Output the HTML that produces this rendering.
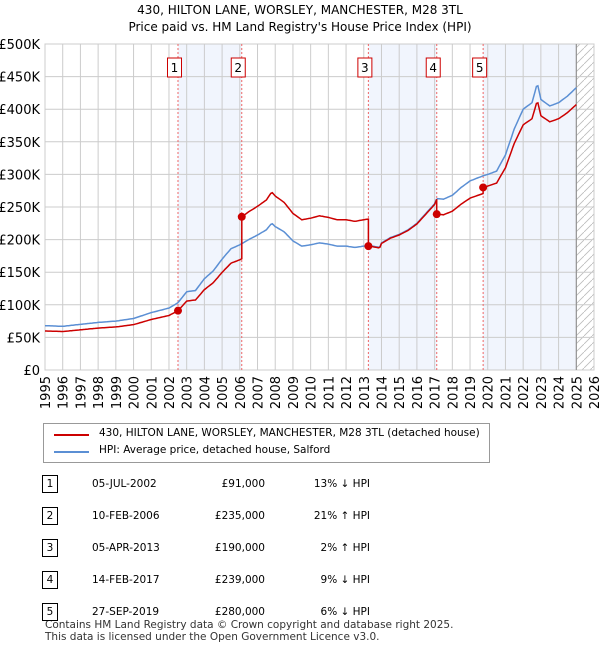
<!DOCTYPE html>
<html><head><meta charset="utf-8"><style>
body{margin:0;background:#fff;font-family:"DejaVu Sans","Liberation Sans",sans-serif;}
#wrap{position:relative;width:600px;height:650px;overflow:hidden}
.t{position:absolute;font-size:12px;color:#000}
</style></head><body><div id="wrap">
<div class="t" style="left:0;width:600px;top:2px;text-align:center;font-size:12px;line-height:17px">430, HILTON LANE, WORSLEY, MANCHESTER, M28 3TL<br>Price paid vs. HM Land Registry's House Price Index (HPI)</div>
<svg id="ch" width="600" height="415" style="position:absolute;left:0;top:0"></svg>
<div style="position:absolute;left:43px;top:423px;width:445px;height:38px;border:1px solid #999;background:#fff">
 <div style="position:absolute;left:10px;top:10px;width:35px;border-top:2px solid #cc0000"></div>
 <div class="t" style="left:55px;top:3px;font-size:10.5px">430, HILTON LANE, WORSLEY, MANCHESTER, M28 3TL (detached house)</div>
 <div style="position:absolute;left:10px;top:27px;width:35px;border-top:2px solid #5b8fd4"></div>
 <div class="t" style="left:55px;top:20px;font-size:10.5px">HPI: Average price, detached house, Salford</div>
</div>
<div class="t" style="left:45px;top:619px;font-size:10.5px;line-height:12px;color:#333">Contains HM Land Registry data © Crown copyright and database right 2025.<br>This data is licensed under the Open Government Licence v3.0.</div>
</div>
<script>
const hpiYears=[1995,1996,1997,1998,1999,2000,2001,2002,2002.5,2003,2003.5,2004,2004.5,2005,2005.5,2006,2006.5,2007,2007.5,2007.8,2008,2008.5,2009,2009.5,2010,2010.5,2011,2011.5,2012,2012.5,2013,2013.3,2013.9,2014,2014.5,2015,2015.5,2016,2016.5,2017,2017.12,2017.5,2018,2018.5,2019,2019.75,2020,2020.5,2021,2021.5,2022,2022.5,2022.8,2023,2023.5,2024,2024.5,2025];
const hpiValues=[68,67,70,73,75,79,88,95,103,120,122,140,152,170,186,192,200,207,215,225,220,212,198,190,192,195,193,190,190,188,190,191,188,195,203,208,215,225,240,255,263,262,268,280,290,298,300,305,330,370,400,410,440,415,405,410,420,433];
const saleDates=[2002.51,2006.11,2013.26,2017.12,2019.74];
const salePrices=[91,235,190,239,280];
const saleLabels=["05-JUL-2002","10-FEB-2006","05-APR-2013","14-FEB-2017","27-SEP-2019"];
const salePriceText=["£91,000","£235,000","£190,000","£239,000","£280,000"];
const saleHpiText=["13% ↓ HPI","21% ↑ HPI","2% ↑ HPI","9% ↓ HPI","6% ↓ HPI"];
const yTicks=[0,50,100,150,200,250,300,350,400,450,500];
const yTickLabels=["£0","£50K","£100K","£150K","£200K","£250K","£300K","£350K","£400K","£450K","£500K"];
const xTicks=[1995,1996,1997,1998,1999,2000,2001,2002,2003,2004,2005,2006,2007,2008,2009,2010,2011,2012,2013,2014,2015,2016,2017,2018,2019,2020,2021,2022,2023,2024,2025,2026];

const X0=45,X1=594,Y0=370,Y1=44;
const xs=v=>X0+(v-1995)/(2026-1995)*(X1-X0);
const ys=v=>Y0-(v/500)*(Y0-Y1);
const NS="http://www.w3.org/2000/svg";
const svg=document.getElementById('ch');
function mk(tag,attrs,parent){const e=document.createElementNS(NS,tag);for(const k in attrs)e.setAttribute(k,attrs[k]);(parent||svg).appendChild(e);return e;}
function hpiAt(t){for(let i=0;i<hpiYears.length-1;i++){if(t<=hpiYears[i+1]){const f=(t-hpiYears[i])/(hpiYears[i+1]-hpiYears[i]);return hpiValues[i]+f*(hpiValues[i+1]-hpiValues[i]);}}return hpiValues[hpiValues.length-1];}
const endT=2025;
const shadeSpans=[[saleDates[0],saleDates[1]],[saleDates[2],saleDates[3]],[saleDates[4],endT]];
shadeSpans.forEach(s=>{const r=mk('rect',{x:xs(s[0]),y:Y1,width:xs(s[1])-xs(s[0]),height:Y0-Y1,fill:'#eef3fc',opacity:0.8});
});
const defs=mk('defs',{});const pat=mk('pattern',{id:'h',width:8,height:8,patternUnits:'userSpaceOnUse'},defs);
mk('path',{d:'M0,8 L8,0',stroke:'#bbb','stroke-width':0.8},pat);
const hr=mk('rect',{x:xs(endT),y:Y1,width:X1-xs(endT),height:Y0-Y1,fill:'url(#h)'});

yTicks.forEach((v,i)=>{const l=mk('line',{x1:X0,x2:X1,y1:ys(v),y2:ys(v),stroke:'#ccc'});

const t=mk('text',{x:40,y:ys(v)+5,'text-anchor':'end','font-size':13,fill:'#000'});t.textContent=yTickLabels[i];
});
xTicks.forEach(v=>{const l=mk('line',{x1:xs(v),x2:xs(v),y1:Y1,y2:Y0,stroke:'#ccc'});

const t=mk('text',{x:0,y:0,'text-anchor':'end','font-size':13,fill:'#000',transform:`translate(${xs(v)+5},${Y0+6}) rotate(-90)`});t.textContent=v;
});
mk('rect',{x:X0,y:Y1,width:X1-X0,height:Y0-Y1,fill:'none',stroke:'#ccc'});
mk('line',{x1:xs(endT),x2:xs(endT),y1:Y1,y2:Y0,stroke:'#888'});
saleDates.forEach((d,i)=>{const l=mk('line',{x1:xs(d),x2:xs(d),y1:Y1,y2:Y0,stroke:'#e66','stroke-dasharray':'2,2'});

const r=mk('rect',{x:xs(d)-10.5,y:58,width:14,height:19,fill:'#fff',stroke:'#cc0000'});

const t=mk('text',{x:xs(d)-3.5,y:72,'text-anchor':'middle','font-size':12});t.textContent=i+1;
});
const ts=[];for(let t=1995;t<=endT+0.0001;t+=1/12)ts.push(+t.toFixed(4));
let bp='';ts.forEach((t,i)=>{bp+=(i?'L':'M')+xs(t).toFixed(1)+','+ys(hpiAt(t)).toFixed(1);});
const bl=mk('path',{d:bp,fill:'none',stroke:'#5b8fd4','stroke-width':1.5});

function ratioAt(t){let k=0;for(let i=0;i<saleDates.length;i++)if(t>=saleDates[i])k=i;return salePrices[k]/hpiAt(saleDates[k]);}
let rp='';const pts=[];
ts.forEach(t=>pts.push(t));saleDates.forEach(d=>{pts.push(d-0.0001);pts.push(d);});pts.sort((a,b)=>a-b);
pts.forEach((t,i)=>{rp+=(i?'L':'M')+xs(t).toFixed(1)+','+ys(hpiAt(t)*ratioAt(t)).toFixed(1);});
const rl=mk('path',{d:rp,fill:'none',stroke:'#cc0000','stroke-width':1.5});

saleDates.forEach((d,i)=>{const c=mk('circle',{cx:xs(d),cy:ys(salePrices[i]),r:4,fill:'#cc0000'});
});
saleDates.forEach((d,i)=>{const y=475+i*32;
const row=document.createElement('div');


row.style.cssText=`position:absolute;left:0;top:${y}px;width:600px;height:20px;font-size:10.5px`;
row.innerHTML=`<div style="position:absolute;left:42px;top:0;width:14px;height:16px;border:1px solid #000;text-align:center;line-height:16px">${i+1}</div>
<div style="position:absolute;left:92px;top:3px">${saleLabels[i]}</div>
<div style="position:absolute;left:180px;width:85px;top:3px;text-align:right">${salePriceText[i]}</div>
<div style="position:absolute;left:280px;width:90px;top:3px;text-align:right">${saleHpiText[i]}</div>`;
document.getElementById('wrap').appendChild(row);});
</script></body></html>
